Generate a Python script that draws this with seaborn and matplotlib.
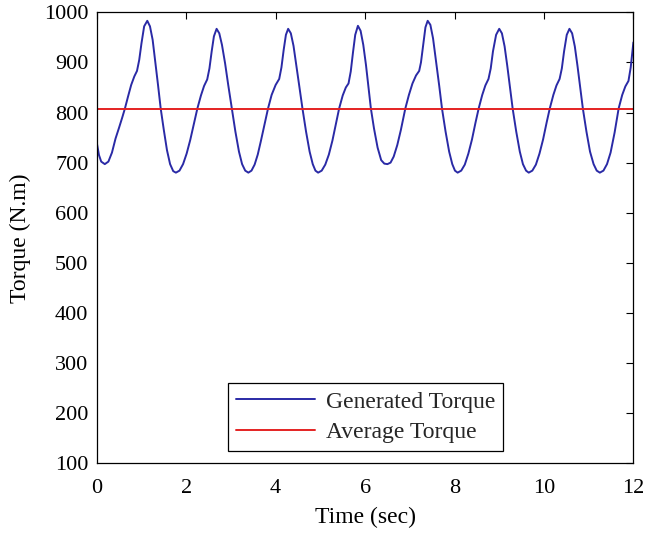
import matplotlib
matplotlib.use("Agg")
import matplotlib.pyplot as plt
import seaborn as sns
import pandas as pd

# ---- data ----
time_s = [
    0.00, 0.05, 0.10, 0.18, 0.26, 0.34, 0.42, 0.50, 0.57, 0.63, 0.70, 0.77, 0.84, 0.90,
    0.95, 1.00, 1.06, 1.13, 1.19, 1.25, 1.31, 1.37, 1.43, 1.50, 1.57, 1.64, 1.71,
    1.77, 1.85, 1.93, 2.01, 2.09, 2.17, 2.25, 2.33, 2.40, 2.47, 2.52, 2.57, 2.62, 2.68,
    2.74, 2.80, 2.87, 2.94, 3.02, 3.10, 3.18, 3.25, 3.32,
    3.39, 3.46, 3.53, 3.60, 3.67, 3.75, 3.83, 3.91, 4.00, 4.08, 4.13, 4.18, 4.23, 4.28,
    4.34, 4.40, 4.46, 4.53, 4.60, 4.68, 4.76, 4.83, 4.89,
    4.95, 5.03, 5.11, 5.19, 5.27, 5.35, 5.42, 5.50, 5.57, 5.63, 5.68, 5.73, 5.78, 5.84,
    5.90, 5.96, 6.02, 6.07, 6.13, 6.20, 6.28, 6.36, 6.43,
    6.50, 6.57, 6.64, 6.72, 6.80, 6.90, 6.98, 7.06, 7.14, 7.21, 7.25, 7.30, 7.35, 7.40,
    7.46, 7.52, 7.59, 7.66, 7.72, 7.80, 7.88, 7.95, 8.01,
    8.07, 8.15, 8.23, 8.31, 8.39, 8.47, 8.54, 8.62, 8.69, 8.76, 8.81, 8.86, 8.93, 9.00,
    9.06, 9.12, 9.18, 9.24, 9.30, 9.38, 9.46, 9.53, 9.60,
    9.66, 9.74, 9.82, 9.90, 9.98, 10.06, 10.13, 10.21, 10.28, 10.35, 10.40, 10.45, 10.51, 10.57,
    10.63, 10.69, 10.75, 10.81, 10.87, 10.95, 11.03, 11.11, 11.18,
    11.25, 11.33, 11.41, 11.49, 11.58, 11.67, 11.75, 11.82, 11.89, 11.94, 12.00,
]
generated_torque = [
    740, 715, 702, 697, 702, 720, 748, 770, 790, 808, 832, 855, 872, 883,
    905, 938, 972, 983, 972, 945, 900, 855, 808, 765, 725, 697, 683,
    680, 684, 697, 718, 745, 777, 808, 834, 853, 866, 888, 922, 952, 967,
    958, 935, 898, 855, 808, 762, 722, 697, 684,
    680, 684, 696, 716, 743, 776, 808, 835, 855, 867, 890, 925, 955, 967,
    958, 933, 895, 852, 808, 762, 722, 697, 684,
    680, 684, 696, 716, 744, 778, 808, 834, 850, 858, 882, 920, 955, 973,
    963, 935, 895, 855, 808, 768, 730, 705, 698,
    697, 700, 712, 735, 765, 808, 835, 858, 874, 883, 900, 935, 970, 983,
    975, 948, 900, 852, 808, 762, 722, 697, 684,
    680, 684, 696, 718, 746, 780, 808, 835, 854, 867, 888, 922, 955, 967,
    958, 932, 893, 850, 808, 762, 722, 697, 684,
    680, 684, 696, 718, 746, 780, 808, 835, 854, 867, 888, 922, 955, 967,
    958, 932, 893, 850, 808, 762, 722, 697, 684,
    680, 684, 697, 720, 760, 808, 835, 852, 863, 890, 940,
]
average_time = [0.0, 12.0]
average_torque = [807, 807]

x_ticks = [0, 2, 4, 6, 8, 10, 12]
y_ticks = [100, 200, 300, 400, 500, 600, 700, 800, 900, 1000]

# ---- styling ----
sns.set_theme(style="white")
plt.rcParams["font.family"] = ["Liberation Serif", "DejaVu Serif"]

fig = plt.figure(figsize=(6.45, 5.34), dpi=100)
ax = fig.add_axes([0.150, 0.1324, 0.832, 0.8446])

df_gen = pd.DataFrame({"t": time_s, "v": generated_torque})
df_avg = pd.DataFrame({"t": average_time, "v": average_torque})

sns.lineplot(data=df_gen, x="t", y="v", ax=ax, color="#2a2aa6", linewidth=1.4,
             label="Generated Torque", sort=False, estimator=None)
sns.lineplot(data=df_avg, x="t", y="v", ax=ax, color="#e42222", linewidth=1.4,
             label="Average Torque", sort=False, estimator=None)

ax.set_xlim(0, 12)
ax.set_ylim(100, 1000)
ax.set_xticks(x_ticks)
ax.set_yticks(y_ticks)
ax.set_xticklabels([str(v) for v in x_ticks])
ax.set_yticklabels([str(v) for v in y_ticks])
ax.tick_params(direction="in", length=5, width=0.8, top=True, right=True,
               labelsize=16, colors="black")
ax.tick_params(axis="x", pad=11.5)
ax.tick_params(axis="y", pad=6)
for s in ax.spines.values():
    s.set_color("black")
    s.set_linewidth(0.9)

ax.set_xlabel("Time (sec)", fontsize=17, color="black", labelpad=6)
ax.set_ylabel("Torque (N.m)", fontsize=17, color="black", labelpad=9)

leg = ax.legend(loc="lower center", bbox_to_anchor=(0.5006, 0.0273), fontsize=17,
                frameon=True, fancybox=False, edgecolor="black", framealpha=1,
                borderpad=0.33, labelspacing=0.38, handlelength=3.35, handletextpad=0.45,
                borderaxespad=0.0)
leg.get_frame().set_linewidth(0.9)

fig.savefig("out.png", dpi=100)
